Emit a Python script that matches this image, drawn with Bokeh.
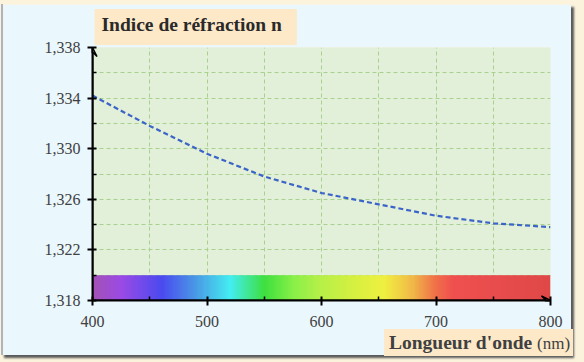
import numpy as np
from bokeh.plotting import figure
from bokeh.models import (FixedTicker, CustomJSTickFormatter, Arrow, VeeHead, Div,
                          GlobalInlineStyleSheet, Range1d)
from bokeh.layouts import column
from bokeh.embed import file_html
from bokeh.resources import INLINE

# ---- data ----
wavelength = [400, 425, 450, 475, 500, 550, 600, 650, 700, 750, 800]
n_index = [1.3342, 1.3330, 1.3318, 1.3307, 1.3296, 1.3278, 1.3265, 1.3256, 1.3247, 1.3241, 1.3238]

x_ticks = [400, 500, 600, 700, 800]
x_minor = [450, 550, 650, 750]
y_ticks = [1.318, 1.322, 1.326, 1.330, 1.334, 1.338]
y_minor = [1.320, 1.324, 1.328, 1.332, 1.336]

spec_nm = [400, 425, 460, 490, 520, 550, 575, 600, 630, 655, 680, 700, 715, 800]
spec_col = ["#a452b4", "#9b4be6", "#4b4af0", "#4a9ae6", "#44eef2", "#3ee040", "#88f048",
            "#b8f048", "#d8f040", "#f0f040", "#f0b848", "#f07048", "#f05050", "#e04848"]
band_bottom, band_top = 1.318, 1.320

title_text = "Indice de réfraction n"
xlabel_bold = "Longueur d'onde"
xlabel_unit = "(nm)"

SERIF = "Liberation Serif"

p = figure(width=570, height=351, output_backend="svg", toolbar_location=None,
           x_range=Range1d(400, 800), y_range=Range1d(1.318, 1.338),
           min_border_left=89, min_border_right=23, min_border_top=43, min_border_bottom=55)
p.stylesheets = [GlobalInlineStyleSheet(css="body{background:#fcf3dc;}")]
p.styles = {"margin-left": "1px", "margin-top": "4px",
            "border-left": "2px solid #aab4c2",
            "box-shadow": "3px 3px 2px #5a5a5a"}
p.border_fill_color = "#eaf7fd"
p.background_fill_color = "#e2efd9"
p.outline_line_color = None

# title
p.title.text = title_text
p.title.align = "left"
p.title.offset = 2
p.title.standoff = 5
p.title.text_font = SERIF
p.title.text_font_size = "19.5px"
p.title.text_font_style = "bold"
p.title.text_color = "#2a2a2a"
p.title.background_fill_color = "#fde9c8"
p.title.padding = (7, 15, 5, 10)

# axes
for ax in (p.xaxis[0], p.yaxis[0]):
    ax.axis_line_color = "black"
    ax.axis_line_width = 2
    ax.major_tick_line_color = "black"
    ax.major_tick_line_width = 2
    ax.minor_tick_line_color = "black"
    ax.minor_tick_line_width = 1.5
    ax.major_label_text_font = SERIF
    ax.major_label_text_font_size = "16px"
    ax.major_label_text_color = "#404040"
    ax.major_tick_out = 5
    ax.major_tick_in = 4
    ax.minor_tick_out = 0
    ax.minor_tick_in = 4

p.xaxis.ticker = FixedTicker(ticks=x_ticks, minor_ticks=x_minor)
p.yaxis.ticker = FixedTicker(ticks=y_ticks, minor_ticks=y_minor)
p.xaxis.major_label_standoff = 10
p.yaxis.major_label_standoff = 7
p.yaxis.formatter = CustomJSTickFormatter(code="return tick.toFixed(3).replace('.', ',');")

for g in (p.xgrid[0], p.ygrid[0]):
    g.grid_line_color = "#a9d18e"
    g.grid_line_dash = "4 3"
    g.grid_line_width = 1
    g.minor_grid_line_color = "#a9d18e"
    g.minor_grid_line_dash = "4 3"
    g.minor_grid_line_width = 1

# spectrum band
ncols = 400
xs = np.linspace(spec_nm[0], spec_nm[-1], ncols)
rgb = np.array([[int(c[i:i + 2], 16) for i in (1, 3, 5)] for c in spec_col], dtype=float)
img = np.zeros((1, ncols), dtype=np.uint32)
view = img.view(dtype=np.uint8).reshape((1, ncols, 4))
for k in range(3):
    view[0, :, k] = np.interp(xs, spec_nm, rgb[:, k]).astype(np.uint8)
view[0, :, 3] = 255
p.image_rgba(image=[img], x=spec_nm[0], y=band_bottom, dw=spec_nm[-1] - spec_nm[0],
             dh=band_top - band_bottom)

# curve
p.line(wavelength, n_index, line_color="#3b64c8", line_width=2.2, line_dash="5 3")

# axis arrows
p.add_layout(Arrow(end=VeeHead(size=9, line_color="black", line_width=1.5, fill_alpha=0),
                   x_start=400, y_start=1.318, x_end=400, y_end=1.338,
                   line_color="black", line_width=2))
p.add_layout(Arrow(end=VeeHead(size=9, line_color="black", line_width=1.5, fill_alpha=0),
                   x_start=400, y_start=1.318, x_end=800, y_end=1.318,
                   line_color="black", line_width=2))

# x-axis title box
xlab = Div(text=f"<b>{xlabel_bold}</b> <span style='font-size:17px'>{xlabel_unit}</span>",
           width=189, height=27,
           styles={"position": "absolute", "left": "384px", "top": "329px",
                   "background": "#fde9c8", "font-family": "'Liberation Serif', serif",
                   "font-size": "19.5px", "color": "#404040", "line-height": "27px",
                   "padding-left": "5px", "box-sizing": "border-box",
                   "white-space": "nowrap", "margin": "0"})

layout = column(p, xlab, spacing=0)
layout.styles = {"position": "relative"}

open("out.html", "w").write(file_html(layout, INLINE))
